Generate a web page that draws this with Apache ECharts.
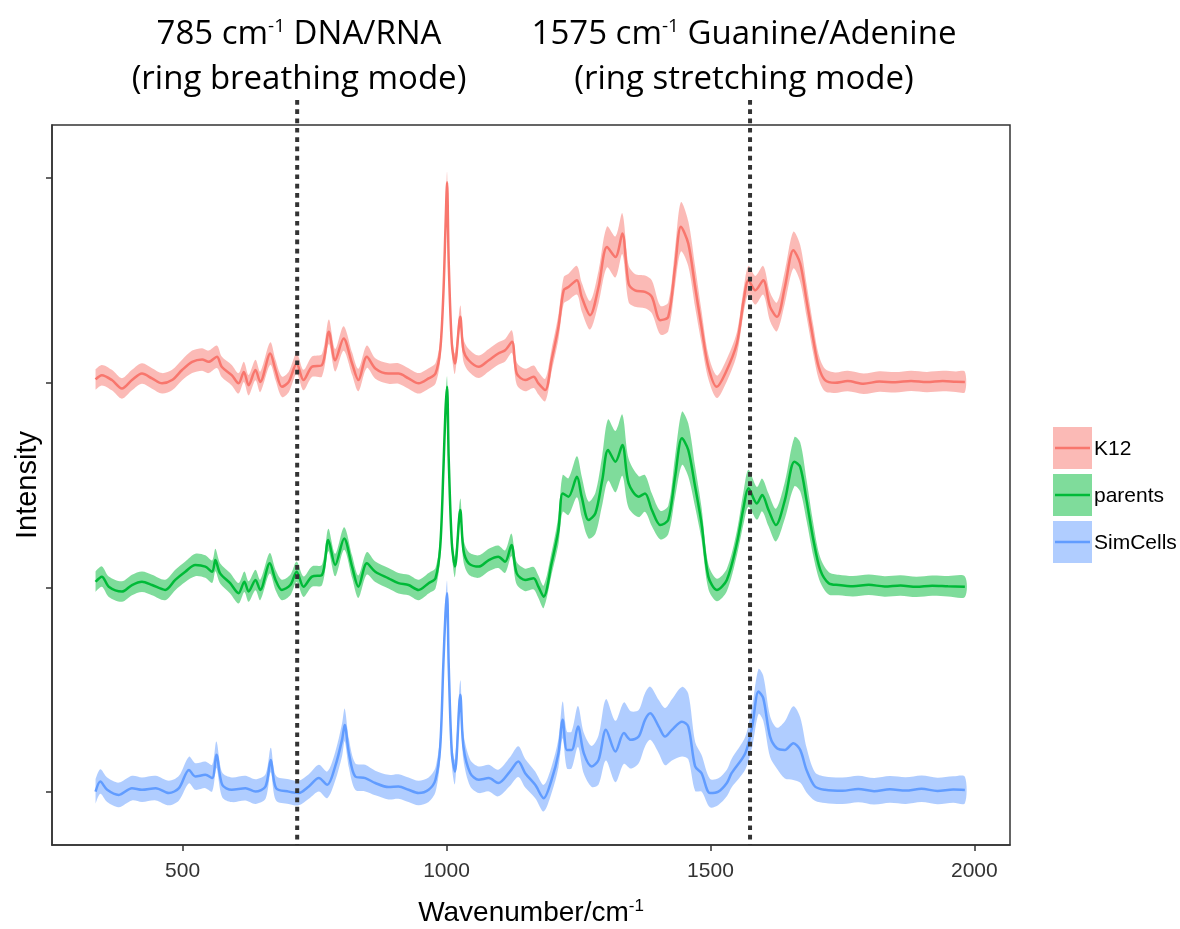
<!DOCTYPE html>
<html>
<head>
<meta charset="utf-8">
<script src="https://cdn.jsdelivr.net/npm/echarts@6/dist/echarts.min.js"></script>
<style>
  html, body { margin: 0; padding: 0; background: #ffffff; }
  #chart { width: 1180px; height: 929px; }
</style>
</head>
<body>
<div id="chart"></div>
<script>
// Raman spectra: mean intensity (line) with +/- spread (ribbon), stacked with vertical offsets.
const seriesNames = ['K12', 'parents', 'SimCells'];
const seriesOffsets = [200, 100, 0];

const k12Wn = [335,347,366,385,404,423,442,461,480,499,518,537,549,565,574,593,606,616,625,638,647,666,676,688,701,716,729,745,764,777,789,805,821,833,849,865,890,909,928,947,966,979,988,994,998,1001,1004,1010,1016,1026,1032,1042,1061,1080,1098,1111,1124,1133,1149,1165,1174,1187,1199,1212,1222,1231,1247,1256,1272,1288,1304,1320,1333,1345,1357,1376,1389,1405,1420,1433,1444,1458,1471,1483,1496,1512,1528,1550,1563,1572,1585,1600,1613,1626,1641,1657,1670,1682,1695,1705,1717,1736,1760,1790,1820,1850,1880,1910,1940,1965,1982];
const k12Mean = [1.6,3.7,1.3,-2.8,1.3,4.5,2.1,-0.3,1.3,6.2,10.2,11.4,10.2,12.7,7.8,3.7,-0.3,5.3,-1.2,6.2,0.4,14.3,6.2,-2,0.4,9.4,1.3,7.8,8.6,24.9,11,21.6,9.4,1.3,12.7,7,4.5,4.5,2.1,-0.3,2.1,4.5,15.9,43.6,76,98,60,19.2,9.4,32.2,15.9,11,7.8,11,14.3,15.9,20,4.5,1.3,2.9,-0.3,-3.6,11,27.3,45.2,46.8,50.1,42,33,46.8,66.4,61.5,72.9,48.4,45.2,44.4,42,30.6,32.2,56.6,76.2,68,46.8,27.3,7.8,-2,4.5,19.2,40.4,50.1,45.2,50.1,37.1,32.2,46.8,64.8,58.3,40.4,20.8,7.8,1.3,0,0.8,-0.5,0.6,0.2,0.9,0.3,0.8,0.5,0.4];
const k12Sd = [5,5,5,5,5,5,5,5,5,5,5.5,5.5,5.5,5.5,5,5,5,5,5,5,5,5.5,5,5,5,5,5,5,5.5,6,5.5,6,5.5,5.5,5.5,5,5,5,5,5,5,5,5,5,5,5,5,5,5,5.5,5.5,5.5,5.5,5.5,5.5,5.5,5.5,5.5,5.5,5.5,5.5,5.5,5.5,6,6.5,6.5,7,7,7,8,10,10,10,9,8,8,8,7,7,9,12,11,10,8,6,5.5,5.5,5.5,6,7,7,7,7,7,8,9,9,8,7,6,5.5,5,5,5,5,5,5,5,5,5,5];

const parentsWn = [335,347,360,385,404,423,442,467,486,505,524,543,556,562,571,590,606,617,625,638,647,665,676,688,704,716,729,745,764,776,789,806,821,833,849,865,890,909,928,947,966,979,988,994,998,1001,1004,1010,1016,1026,1032,1042,1061,1080,1098,1111,1123,1133,1149,1165,1174,1184,1199,1212,1220,1231,1247,1256,1269,1282,1295,1306,1320,1333,1345,1364,1376,1389,1405,1420,1433,1446,1458,1471,1483,1496,1512,1531,1550,1563,1572,1588,1598,1610,1624,1641,1659,1670,1682,1695,1708,1724,1743,1770,1800,1830,1860,1890,1920,1950,1982];
const parentsMean = [2.7,5.2,0.3,-2.1,1.1,2.7,1.1,-1.3,3.6,7.6,10.9,10.1,7.6,13.3,6.8,2,-2.9,2.7,-2.1,3.6,-1.3,11.7,3.6,-1.3,1.1,7.6,0.3,5.2,6,23.1,10.9,23.9,10.1,0.3,11.7,7.6,4.4,2,1.1,-1.3,2,4.4,19.8,57.3,86.6,98,63.8,21.5,10.1,37.8,18.2,11.7,10.1,13.3,14.9,12.5,20.7,6.8,3.6,4.4,0.3,-4.6,11.7,28,45.9,44.3,54,44.3,32.9,36.2,52.4,67.1,61.4,69.5,50.8,44.3,45.9,37.8,30.4,32.9,54,72.8,67.1,49.1,31.3,5.2,-1.3,3.6,21.5,39.4,48.4,41,45.1,37.8,30.4,42.6,61.4,58.9,42.6,23.1,8.5,2,1.1,0.5,1.2,0.4,0.9,0.2,0.8,0.5,0.3];
const parentsSd = [5,5,5,5,5,5,5,5,5,5,5.5,5.5,5.5,5.5,5,5,5,5,5,5,5,5,5,5,5,5,5,5,5,5.5,5.5,5.5,5.5,5.5,5.5,5,5,5,5,5,5,5,5,5,5,5,5,5,5,5.5,5.5,5.5,5.5,5.5,5.5,5.5,5.5,5.5,5.5,5.5,5.5,5.5,5.5,7,9,9,10,10,9,10,12,15,15,15,12,10,9,8,7,7,10,13,13,10,8,6,5.5,5.5,6,8,9,8,8,8,8,9,12,12,10,8,6,5.5,5,5,5,5,5,5,5,5,5];

const simWn = [335,344,357,379,404,423,449,474,493,512,524,543,556,564,575,593,619,638,657,667,677,701,720,739,758,774,789,802,807,815,827,846,865,890,909,928,947,966,979,988,994,998,1001,1004,1010,1016,1026,1032,1045,1061,1080,1098,1120,1136,1149,1168,1184,1199,1212,1220,1228,1237,1249,1260,1275,1288,1302,1320,1336,1349,1364,1376,1386,1402,1414,1427,1446,1458,1471,1483,1499,1515,1531,1540,1566,1579,1591,1600,1613,1626,1641,1657,1670,1682,1698,1717,1750,1780,1810,1840,1870,1900,1930,1960,1982];
const simMean = [0.1,5,1,-1.5,1.8,1,1.8,-0.6,1.8,10.7,7.5,8.3,6.7,18.1,3.4,1,1.8,0.1,2.6,15.6,1.8,0.1,-0.6,2.6,6.7,3.4,12.4,25.4,32.7,18.9,7.5,6.7,4.3,2.3,2.6,1,-0.6,1,5.9,22.1,62.9,87.3,97.1,62.9,18.9,9.9,47.4,22.1,9.1,5.9,6.7,4.3,9.9,14.8,9.1,3.4,-3.1,5.9,18.9,35.2,20.5,20.5,31.9,18.9,12.4,15.6,30.3,19.7,28.7,25.4,27,35.2,38.4,31.9,27,30.3,34.3,31.9,12.4,9.1,-0.6,0.1,4.3,9.1,18.9,31.9,49,45.8,27,21.3,20.5,23.8,20.5,10.7,2.6,1,0.5,1.4,0.3,1.2,0.6,1.5,0.4,1.1,0.9];
const simSd = [6,6,6,6,6,6,6,6,6,6.5,6.5,6.5,6.5,6.5,6,6,6,6,6,6,6,6,6,6,6.5,6.5,7,8,8,7,6.5,6.5,6,6,6,6,6,6,6,6,6,6,6,6,6,6,7,6.5,6.5,6.5,6.5,6.5,7,7.5,7,6.5,6.5,6.5,7,9,9,9,10,10,10,12,15,15,15,14,13,13,13,13,14,15,17,16,12,9,7,6.5,6.5,7,8,10,11,11,10,10,14,18,16,11,7,6.5,6.5,6.5,6.5,6.5,6.5,6.5,6.5,6.5,6.5];

const xTicks = [500, 1000, 1500, 2000];
const yTicks = [0, 100, 200, 300];
const guideLines = [717, 1575];

const lineColors = ['#F8766D', '#00BA38', '#619CFF'];
const bandColors = ['rgba(248,118,109,0.5)', 'rgba(0,186,56,0.5)', 'rgba(97,156,255,0.5)'];

const spectra = [
  { wn: k12Wn, mean: k12Mean, sd: k12Sd },
  { wn: parentsWn, mean: parentsMean, sd: parentsSd },
  { wn: simWn, mean: simMean, sd: simSd }
];

const SANS = '"Liberation Sans", Arial, sans-serif';
const NOTE_FONT = '"Open Sans", "Noto Sans", sans-serif';
const CURVE = 0.3;

function bandSeries(s, offset, color) {
  return {
    type: 'custom',
    silent: true,
    clip: true,
    z: 1,
    data: [[s.wn[0], offset]],
    renderItem: function (params, api) {
      const upper = s.wn.map((x, i) => api.coord([x, offset + s.mean[i] + s.sd[i]]));
      const lower = s.wn.map((x, i) => api.coord([x, offset + s.mean[i] - s.sd[i]])).reverse();
      return {
        type: 'group',
        children: [
          { type: 'polyline', shape: { points: upper.concat(lower), smooth: CURVE }, style: { fill: color, stroke: null } }
        ]
      };
    }
  };
}

function lineSeries(s, offset, color, name) {
  return {
    type: 'line',
    name: name,
    silent: true,
    showSymbol: false,
    smooth: CURVE,
    z: 3,
    lineStyle: { color: color, width: 2.5 },
    data: s.wn.map((x, i) => [x, offset + s.mean[i]])
  };
}

const chart = echarts.init(document.getElementById('chart'), null, { renderer: 'canvas' });

const series = [];
spectra.forEach((s, i) => series.push(bandSeries(s, seriesOffsets[i], bandColors[i])));
spectra.forEach((s, i) => series.push(lineSeries(s, seriesOffsets[i], lineColors[i], seriesNames[i])));

chart.setOption({
  animation: false,
  backgroundColor: '#ffffff',
  grid: {
    left: 52, right: 170, top: 125, bottom: 84,
    outerBoundsMode: 'none',
    containLabel: false,
    show: true, borderColor: '#333333', borderWidth: 1.5, backgroundColor: 'transparent'
  },
  xAxis: {
    type: 'value',
    min: 252.5, max: 2067.5,
    splitLine: { show: false },
    axisLine: { show: true, onZero: false, lineStyle: { color: '#333333', width: 1.5 } },
    axisTick: { show: true, customValues: xTicks, length: 6, lineStyle: { color: '#333333', width: 1.5 } },
    axisLabel: {
      customValues: xTicks, color: '#333333', fontSize: 21, fontFamily: SANS, margin: 16,
      formatter: v => String(v)
    },
    name: '{t|Wavenumber/cm}{s|-1}',
    nameLocation: 'middle',
    nameGap: 53,
    nameTextStyle: {
      rich: {
        t: { fontSize: 28, fontFamily: SANS, color: '#000000' },
        s: { fontSize: 17, fontFamily: SANS, color: '#000000', verticalAlign: 'top', padding: [0, 0, 14, 0] }
      }
    }
  },
  yAxis: {
    type: 'value',
    min: -26, max: 326,
    splitLine: { show: false },
    axisLine: { show: true, onZero: false, lineStyle: { color: '#333333', width: 1.5 } },
    axisTick: { show: true, customValues: yTicks, length: 6, lineStyle: { color: '#333333', width: 1.5 } },
    axisLabel: { show: false },
    name: 'Intensity',
    nameLocation: 'middle',
    nameRotate: 90,
    nameGap: 10,
    nameTextStyle: { fontSize: 29, fontFamily: SANS, color: '#000000' }
  },
  series: series
});

// Guide lines, annotations and legend drawn as graphic elements
const yBottom = chart.convertToPixel({ yAxisIndex: 0 }, -26);
const graphics = [];
guideLines.forEach(v => {
  const x = chart.convertToPixel({ xAxisIndex: 0 }, v);
  graphics.push({
    type: 'line', z: 10, silent: true,
    shape: { x1: x, y1: 100, x2: x, y2: yBottom },
    style: { stroke: '#333333', lineWidth: 4, lineDash: [4.7, 4.6] }
  });
});

const noteRich = {
  a: { fontSize: 33, fontFamily: NOTE_FONT, color: '#000000' },
  s: { fontSize: 19, fontFamily: NOTE_FONT, color: '#000000', verticalAlign: 'top', padding: [0, 0, 16, 0] }
};
const notes = [
  { x: 299, lines: ['{a|785 cm}{s|-1}{a| DNA/RNA}', '{a|(ring breathing mode)}'] },
  { x: 744, lines: ['{a|1575 cm}{s|-1}{a| Guanine/Adenine}', '{a|(ring stretching mode)}'] }
];
notes.forEach(n => {
  n.lines.forEach((t, j) => {
    graphics.push({
      type: 'text', silent: true, x: n.x, y: j === 0 ? 35 : 80,
      style: { text: t, rich: noteRich, align: 'center', verticalAlign: 'middle' }
    });
  });
});

seriesNames.forEach((name, i) => {
  const top = 427 + i * 47;
  graphics.push({
    type: 'rect', silent: true,
    shape: { x: 1053, y: top, width: 39, height: 42 },
    style: { fill: bandColors[i] }
  });
  graphics.push({
    type: 'line', silent: true,
    shape: { x1: 1055, y1: top + 21, x2: 1090, y2: top + 21 },
    style: { stroke: lineColors[i], lineWidth: 2.5 }
  });
  graphics.push({
    type: 'text', silent: true, x: 1094, y: top + 22,
    style: { text: name, fontSize: 21, fontFamily: SANS, fill: '#000000', align: 'left', verticalAlign: 'middle' }
  });
});

chart.setOption({ graphic: graphics });
</script>
</body>
</html>
